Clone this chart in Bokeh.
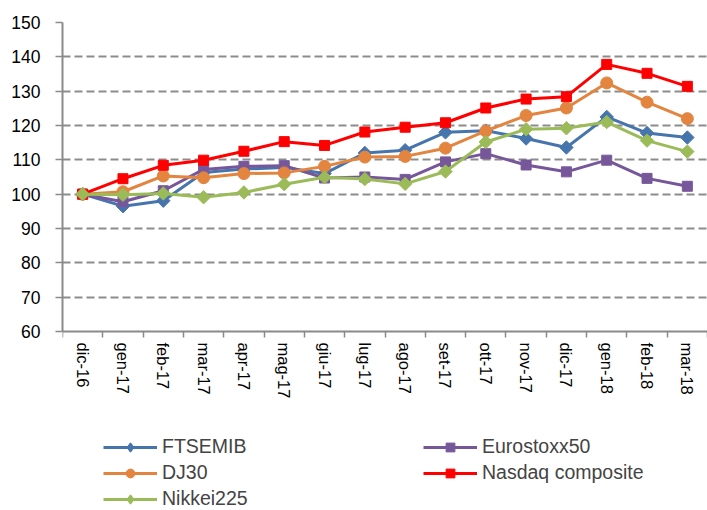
import numpy as np
from bokeh.plotting import figure
from bokeh.models import Range1d, FixedTicker, Legend, LegendItem
from bokeh.embed import file_html
from bokeh.resources import INLINE

months = ["dic-16", "gen-17", "feb-17", "mar-17", "apr-17", "mag-17", "giu-17", "lug-17",
          "ago-17", "set-17", "ott-17", "nov-17", "dic-17", "gen-18", "feb-18", "mar-18"]

ftsemib = [100, 96.5, 98.1, 106.3, 107.3, 107.8, 106.0, 112.0, 112.8, 118.0, 118.5, 116.2, 113.6, 122.5, 117.8, 116.5]
eurostoxx50 = [100, 97.8, 101.0, 107.2, 108.1, 108.3, 104.7, 105.0, 104.3, 109.4, 111.8, 108.5, 106.5, 109.9, 104.6, 102.3]
dj30 = [100, 100.7, 105.3, 104.8, 106.0, 106.2, 108.1, 110.8, 111.0, 113.4, 118.4, 122.9, 125.1, 132.4, 126.8, 122.0]
nasdaq = [100, 104.5, 108.4, 109.9, 112.5, 115.3, 114.2, 118.1, 119.5, 120.8, 125.1, 127.7, 128.4, 137.8, 135.2, 131.4]
nikkei225 = [100, 99.8, 100.2, 99.1, 100.5, 102.9, 104.9, 104.4, 103.0, 106.6, 115.2, 118.9, 119.2, 121.0, 115.6, 112.4]

y_min, y_max = 60, 150
y_ticks = list(range(y_min, y_max + 1, 10))

# name, values, colour, plot marker, size, angle, legend marker
series = [
    ("FTSEMIB", ftsemib, "#4675AD", "square", 9.5, np.pi / 4, "diamond"),
    ("Eurostoxx50", eurostoxx50, "#76589A", "square", 10, 0.0, "square"),
    ("DJ30", dj30, "#E3843F", "circle", 12, 0.0, "circle"),
    ("Nasdaq composite", nasdaq, "#FF0000", "square", 10, 0.0, "square"),
    ("Nikkei225", nikkei225, "#9BBB59", "square", 9.5, np.pi / 4, "diamond"),
]

x = list(range(len(months)))

W, H = 707, 510
top = 22
axis_px = 309  # pixel height of the 60..150 band
frame_h = H - top
y_start = y_max - (y_max - y_min) * frame_h / axis_px

p = figure(width=W, height=H, output_backend="svg", toolbar_location=None,
           x_range=Range1d(-0.5, len(months) - 0.5), y_range=Range1d(y_start, y_max),
           min_border_left=62, min_border_right=0, min_border_top=top, min_border_bottom=0)
p.outline_line_color = None
p.background_fill_color = "white"
p.border_fill_color = "white"

axis_col = "#8A8A8A"
font = "Liberation Sans"

# x axis
xa = p.xaxis[0]
xa.fixed_location = y_min
xa.ticker = FixedTicker(ticks=x, minor_ticks=[i - 0.5 for i in range(len(months) + 1)])
xa.major_label_overrides = {i: m for i, m in zip(x, months)}
xa.major_label_orientation = -np.pi / 2
xa.major_tick_out = 0
xa.major_tick_in = 0
xa.major_tick_line_color = None
xa.minor_tick_out = 6
xa.minor_tick_in = 0
xa.minor_tick_line_color = axis_col
xa.minor_tick_line_width = 1.5
xa.axis_line_color = axis_col
xa.axis_line_width = 2
xa.major_label_text_font = font
xa.major_label_text_font_size = "16.5px"
xa.major_label_text_color = "black"
xa.major_label_standoff = 5

# y axis
ya = p.yaxis[0]
ya.bounds = (y_min, y_max)
ya.ticker = FixedTicker(ticks=y_ticks, minor_ticks=[])
ya.major_tick_out = 7
ya.major_tick_in = 0
ya.major_tick_line_color = axis_col
ya.major_tick_line_width = 1.5
ya.axis_line_color = axis_col
ya.axis_line_width = 2
ya.major_label_text_font = font
ya.major_label_text_font_size = "17.5px"
ya.major_label_text_color = "black"
ya.major_label_standoff = 15

p.xgrid.visible = False
p.ygrid.ticker = FixedTicker(ticks=y_ticks[1:], minor_ticks=[])
p.ygrid.grid_line_color = "#8C8C8C"
p.ygrid.grid_line_width = 2
p.ygrid.grid_line_dash = "8 4"

rend = {}
for name, vals, col, marker, size, ang, lmarker in series:
    l = p.line(x, vals, line_color=col, line_width=3, line_join="round")
    s = p.scatter(x, vals, marker=marker, size=size, angle=ang, fill_color=col, line_color=col)
    if lmarker != marker:
        lg = p.scatter(x, vals, marker=lmarker, size=size, fill_color=col, line_color=col,
                       line_width=1.5, visible=False)
        rend[name] = [l, lg]
    else:
        rend[name] = [l, s]

order = ["FTSEMIB", "DJ30", "Nikkei225", "Eurostoxx50", "Nasdaq composite"]
legend = Legend(items=[LegendItem(label=n, renderers=rend[n]) for n in order],
                ncols=2, location=(41, 0),
                glyph_width=54, glyph_height=22, label_height=22, label_width=258,
                label_standoff=5, spacing=3, padding=0, margin=0,
                label_text_font=font, label_text_font_size="19.5px",
                inactive_fill_alpha=0,
                background_fill_alpha=0, border_line_color=None)
p.add_layout(legend, "center")

open("out.html", "w").write(file_html(p, INLINE))
